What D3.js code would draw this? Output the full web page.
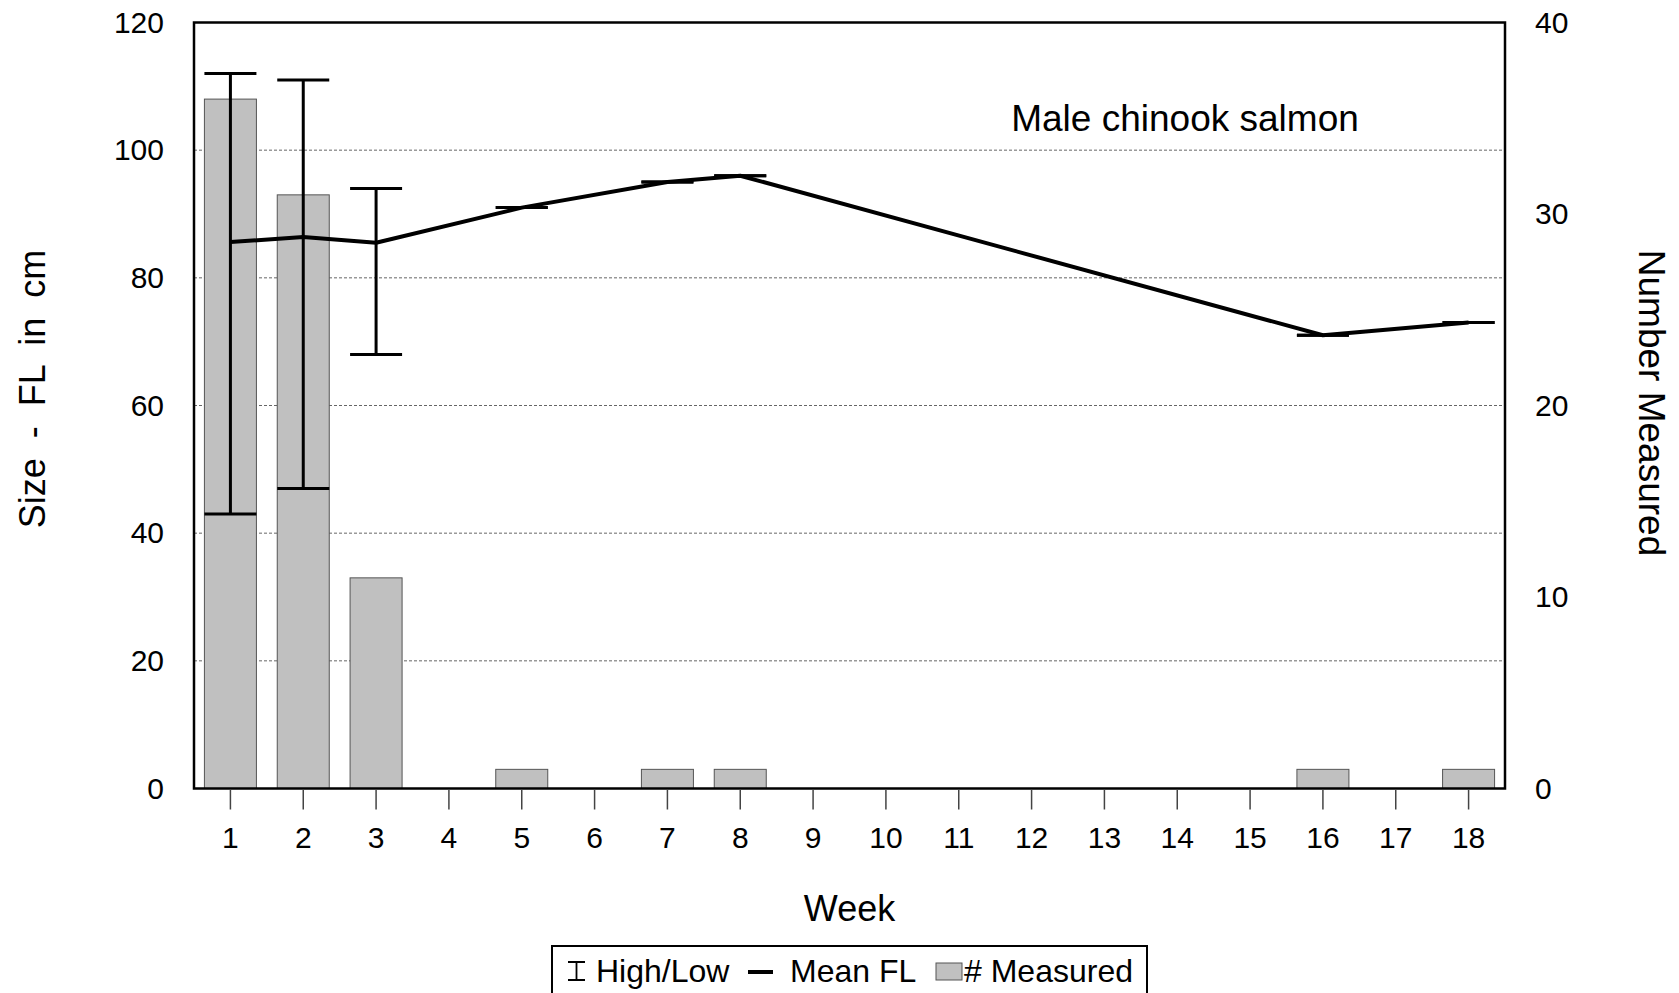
<!DOCTYPE html>
<html>
<head>
<meta charset="utf-8">
<script src="https://cdn.jsdelivr.net/npm/d3@7"></script>
<style>
  html, body { margin: 0; padding: 0; background: #fff; }
  svg { display: block; font-family: "Liberation Sans", Arial, sans-serif; }
</style>
</head>
<body>
<svg id="chart"></svg>
<script>
// data
const weeks    = [1, 2, 3, 4, 5, 6, 7, 8, 9, 10, 11, 12, 13, 14, 15, 16, 17, 18];
const measured = [36, 31, 11, 0, 1, 0, 1, 1, 0, 0, 0, 0, 0, 0, 0, 1, 0, 1];
const meanFL   = [85.6, 86.4, 85.5, null, 91, null, 95, 96, null, null, null, null, null, null, null, 71, null, 73];
const highFL   = [112, 111, 94, null, 91, null, 95, 96, null, null, null, null, null, null, null, 71, null, 73];
const lowFL    = [43, 47, 68, null, 91, null, 95, 96, null, null, null, null, null, null, null, 71, null, 73];
const leftTicks  = [0, 20, 40, 60, 80, 100, 120];
const rightTicks = [0, 10, 20, 30, 40];
const gridTicks  = [20, 40, 60, 80, 100];

const width = 1679, height = 993;
const m = {left: 194, right: 174, top: 22.5, bottom: 204.5};
const x0 = m.left, x1 = width - m.right, y0 = height - m.bottom, y1 = m.top;

const svg = d3.select("#chart").attr("width", width).attr("height", height);

const x = d3.scaleBand().domain(weeks).range([x0, x1]).paddingInner(0.286).paddingOuter(0.143);
const y = d3.scaleLinear().domain([0, 120]).range([y0, y1]);
const y2 = d3.scaleLinear().domain([0, 40]).range([y0, y1]);
const cx = w => x(w) + x.bandwidth() / 2;

const rows = weeks.map((w, i) => ({week: w, n: measured[i], mean: meanFL[i], hi: highFL[i], lo: lowFL[i]}));

// gridlines
svg.append("g").selectAll("line").data(gridTicks).join("line")
  .attr("x1", x0).attr("x2", x1)
  .attr("y1", d => y(d)).attr("y2", d => y(d))
  .attr("stroke", "#666").attr("stroke-width", 1).attr("stroke-dasharray", "3,2");

// bars (right axis)
svg.append("g").selectAll("rect").data(rows.filter(d => d.n > 0)).join("rect")
  .attr("x", d => x(d.week)).attr("width", x.bandwidth())
  .attr("y", d => y2(d.n)).attr("height", d => y2(0) - y2(d.n))
  .attr("fill", "#c0c0c0").attr("stroke", "#555").attr("stroke-width", 1);

// high/low bars
const eb = rows.filter(d => d.hi != null);
const ebG = svg.append("g").attr("stroke", "#000").attr("stroke-width", 3);
ebG.selectAll("line.v").data(eb).join("line").attr("class", "v")
  .attr("x1", d => cx(d.week)).attr("x2", d => cx(d.week))
  .attr("y1", d => y(d.hi)).attr("y2", d => y(d.lo));
ebG.selectAll("line.h").data(eb).join("line").attr("class", "h")
  .attr("x1", d => x(d.week)).attr("x2", d => x(d.week) + x.bandwidth())
  .attr("y1", d => y(d.hi)).attr("y2", d => y(d.hi));
ebG.selectAll("line.l").data(eb).join("line").attr("class", "l")
  .attr("x1", d => x(d.week)).attr("x2", d => x(d.week) + x.bandwidth())
  .attr("y1", d => y(d.lo)).attr("y2", d => y(d.lo));

// mean line
const line = d3.line().x(d => cx(d.week)).y(d => y(d.mean));
svg.append("path").datum(rows.filter(d => d.mean != null))
  .attr("d", line).attr("fill", "none").attr("stroke", "#000")
  .attr("stroke-width", 4).attr("stroke-linejoin", "round");

// frame
svg.append("rect").attr("x", x0).attr("y", y1).attr("width", x1 - x0).attr("height", y0 - y1)
  .attr("fill", "none").attr("stroke", "#000").attr("stroke-width", 2.5);

// axes
const gl = svg.append("g").attr("transform", `translate(${x0},0)`)
  .call(d3.axisLeft(y).tickValues(leftTicks).tickSize(0).tickPadding(30));
const gr = svg.append("g").attr("transform", `translate(${x1},0)`)
  .call(d3.axisRight(y2).tickValues(rightTicks).tickSize(0).tickPadding(30));
const gb = svg.append("g").attr("transform", `translate(0,${y0 + 1})`)
  .call(d3.axisBottom(x).tickSize(20).tickPadding(17));
[gl, gr, gb].forEach(g => {
  g.select(".domain").remove();
  g.selectAll("text").attr("font-size", 30).attr("font-family", "Liberation Sans, Arial, sans-serif").attr("fill", "#000");
});
gb.selectAll(".tick line").attr("stroke", "#444").attr("stroke-width", 1.5);

// titles
svg.append("text").attr("x", 1185).attr("y", 131).attr("text-anchor", "middle")
  .attr("font-size", 37).text("Male chinook salmon");
svg.append("text").attr("x", (x0 + x1) / 2).attr("y", 921).attr("text-anchor", "middle")
  .attr("font-size", 36).text("Week");
svg.append("text").attr("transform", "translate(45,389) rotate(-90)").attr("text-anchor", "middle")
  .attr("font-size", 36).attr("xml:space", "preserve").style("white-space", "pre").text("Size  -  FL  in  cm");
svg.append("text").attr("transform", "translate(1639,403) rotate(90)").attr("text-anchor", "middle")
  .attr("font-size", 37).text("Number Measured");

// legend
const lg = svg.append("g");
lg.append("rect").attr("x", 552).attr("y", 946).attr("width", 595).attr("height", 60)
  .attr("fill", "#fff").attr("stroke", "#000").attr("stroke-width", 2);
lg.append("path").attr("d", "M568,962H585M576.5,962V980M568,980H585")
  .attr("stroke", "#000").attr("stroke-width", 1.8).attr("fill", "none");
lg.append("text").attr("x", 596).attr("y", 982).attr("font-size", 32).text("High/Low");
lg.append("line").attr("x1", 748).attr("x2", 773).attr("y1", 972).attr("y2", 972)
  .attr("stroke", "#000").attr("stroke-width", 4);
lg.append("text").attr("x", 790).attr("y", 982).attr("font-size", 32).text("Mean FL");
lg.append("rect").attr("x", 936).attr("y", 963).attr("width", 26).attr("height", 17)
  .attr("fill", "#c0c0c0").attr("stroke", "#555").attr("stroke-width", 1);
lg.append("text").attr("x", 964).attr("y", 982).attr("font-size", 32).text("# Measured");
</script>
</body>
</html>
